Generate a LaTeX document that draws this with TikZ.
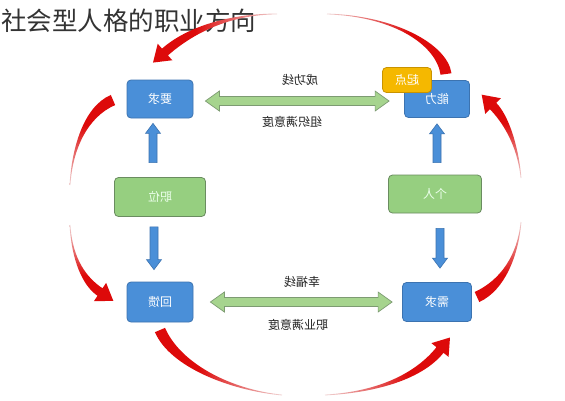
\documentclass[tikz,border=0pt]{standalone}
\usepackage{fontspec}
\usepackage{graphicx}
\setmainfont{Noto Sans CJK SC}
\usetikzlibrary{calc}
\definecolor{boxblue}{HTML}{4A8FD8}
\definecolor{boxblueD}{HTML}{3C73B0}
\definecolor{boxgreen}{HTML}{96CF80}
\definecolor{boxgreenD}{HTML}{6A8C60}
\definecolor{boxorange}{HTML}{F5B800}
\definecolor{boxorangeD}{HTML}{C99300}
\definecolor{arrgreen}{HTML}{A6D48E}
\definecolor{arrgreenD}{HTML}{7D9B72}
\definecolor{redA}{HTML}{DD0A0A}
\definecolor{fadeA}{HTML}{F0D4D4}
\definecolor{titlegray}{HTML}{333333}
\definecolor{labelgray}{HTML}{222222}
\pgfdeclarehorizontalshading{redfade}{100bp}{color(0bp)=(fadeA); color(25bp)=(fadeA); color(58bp)=(redA); color(100bp)=(redA)}
% tapered piece: thick at #1, thin at #4
\newcommand\tapertail[6]{%
  \coordinate (q0) at #1; \coordinate (q1) at #2; \coordinate (q2) at #3; \coordinate (q3) at #4;
  \shade[shading=redfade,#6] ($(q0)!#5!90:(q1)$) .. controls ($(q1)!#5!-90:(q0)$) and ($(q2)!0.4pt!90:(q3)$) .. ($(q3)!0.4pt!-90:(q2)$)
    -- ($(q3)!0.4pt!90:(q2)$) .. controls ($(q2)!0.4pt!-90:(q3)$) and ($(q1)!#5!90:(q0)$) .. ($(q0)!#5!-90:(q1)$) -- cycle;
}
% tapered piece: thin at #1, thick at #4, with an arrow head
\newcommand\taperhead[6]{%
  \coordinate (q0) at #1; \coordinate (q1) at #2; \coordinate (q2) at #3; \coordinate (q3) at #4;
  \shade[shading=redfade,#6] ($(q0)!0.4pt!90:(q1)$) .. controls ($(q1)!0.4pt!-90:(q0)$) and ($(q2)!#5!90:(q3)$) .. ($(q3)!#5!-90:(q2)$)
    -- ($(q3)!11pt!-90:(q2)$) -- ($(q3)!-16pt!(q2)$) -- ($(q3)!11pt!90:(q2)$)
    -- ($(q3)!#5!90:(q2)$) .. controls ($(q2)!#5!-90:(q3)$) and ($(q1)!0.4pt!90:(q0)$) .. ($(q0)!0.4pt!-90:(q1)$) -- cycle;
}
\newcommand\blockarrow[6]{%
  \coordinate (ba0) at #1; \coordinate (ba1) at #2;
  \coordinate (bah) at ($(ba1)!#5!(ba0)$);
  \draw[#6] ($(ba0)!#3!90:(ba1)$) -- ($(bah)!#3!90:(ba1)$) -- ($(bah)!#4!90:(ba1)$) -- (ba1)
    -- ($(bah)!#4!-90:(ba1)$) -- ($(bah)!#3!-90:(ba1)$) -- ($(ba0)!#3!-90:(ba1)$) -- cycle;
}
\newcommand\dblarrow[6]{%
  \coordinate (ba0) at #1; \coordinate (ba1) at #2;
  \coordinate (ha) at ($(ba0)!#5!(ba1)$); \coordinate (hb) at ($(ba1)!#5!(ba0)$);
  \draw[#6] (ba0) -- ($(ha)!#4!90:(ba1)$) -- ($(ha)!#3!90:(ba1)$) -- ($(hb)!#3!90:(ba1)$) -- ($(hb)!#4!90:(ba1)$) -- (ba1)
    -- ($(hb)!#4!-90:(ba1)$) -- ($(hb)!#3!-90:(ba1)$) -- ($(ha)!#3!-90:(ba1)$) -- ($(ha)!#4!-90:(ba1)$) -- cycle;
}
\tikzset{
  boxbase/.style={rounded corners=4pt, line width=0.8pt, inner sep=0pt, font=\fontsize{12}{12}\selectfont},
  bluebox/.style={boxbase, draw=boxblueD, fill=boxblue, text=white},
  greenbox/.style={boxbase, draw=boxgreenD, fill=boxgreen, text=white!92!green},
  orangebox/.style={boxbase, draw=boxorangeD, fill=boxorange, text=white},
  lbl/.style={font=\fontsize{12}{12}\selectfont, text=labelgray, inner sep=0pt},
  bluearrow/.style={draw=boxblueD, fill=boxblue, line width=0.6pt},
  greenarrow/.style={draw=arrgreenD, fill=arrgreen, line width=0.7pt},
}
\begin{document}
\begin{tikzpicture}[x=1pt,y=-1pt]
\fill[white] (0,0) rectangle (565,400);
\useasboundingbox (0,0) rectangle (565,400);
% title
\node[anchor=west, inner sep=0pt, text=titlegray, font=\fontsize{25.5}{25.5}\selectfont] (title) at (1,21) {社会型人格的职业方向};
% boxes
\node[bluebox, minimum width=66pt, minimum height=38pt] (yq) at (160,99) {\reflectbox{要求}};
\node[bluebox, minimum width=65pt, minimum height=37pt] (nl) at (437,99) {\reflectbox{能力}};
\node[orangebox, minimum width=49pt, minimum height=25pt] (qd) at (407,80) {\reflectbox{起点}};
\node[greenbox, minimum width=91pt, minimum height=39pt] (zw) at (160,197) {\reflectbox{职位}};
\node[greenbox, minimum width=93pt, minimum height=38pt] (gr) at (435,194) {\reflectbox{个人}};
\node[bluebox, minimum width=66pt, minimum height=40pt] (hk) at (160,302) {\reflectbox{回馈}};
\node[bluebox, minimum width=69pt, minimum height=39pt] (xq) at (437,302) {\reflectbox{需求}};
% labels
\node[lbl] (l1) at (300,80) {\reflectbox{成功线}};
\node[lbl] (l2) at (292,122) {\reflectbox{组织满意度}};
\node[lbl] (l3) at (302,282) {\reflectbox{幸福线}};
\node[lbl] (l4) at (298,325) {\reflectbox{职业满意度}};
% green double arrows
\dblarrow{($(yq.east)+(12,2)$)}{($(nl.west)+(-15,2)$)}{4.5pt}{10pt}{14pt}{greenarrow}
\dblarrow{($(hk.east)+(17,0)$)}{($(xq.west)+(-10,0)$)}{4.5pt}{10pt}{14pt}{greenarrow}
% blue vertical arrows
\blockarrow{($(zw.north)+(-7,-14.5)$)}{($(yq.south)+(-7,5)$)}{4pt}{7.5pt}{10pt}{bluearrow}
\blockarrow{($(zw.south)+(-6,10)$)}{($(hk.north)+(-6,-12)$)}{4pt}{7.5pt}{10pt}{bluearrow}
\blockarrow{($(gr.north)+(2,-12)$)}{($(nl.south)+(0,6)$)}{4pt}{7.5pt}{10pt}{bluearrow}
\blockarrow{($(gr.south)+(5,15)$)}{($(xq.north)+(3,-14)$)}{4pt}{7.5pt}{10pt}{bluearrow}
% red curved arrows
% top: from 能力 to 要求
\tapertail{(446,74)}{(442,45)}{(395,16)}{(327,14)}{5.5pt}{shading angle=0}
\taperhead{(277,14)}{(230,14)}{(190,30)}{(165,52)}{4.5pt}{shading angle=180}
% left: from 要求 to 回馈
\tapertail{(113,100)}{(85,112)}{(72,150)}{(70,185)}{5.5pt}{shading angle=90}
\taperhead{(70,225)}{(72,260)}{(85,282)}{(100,292)}{4.5pt}{shading angle=270}
% bottom: from 回馈 to 需求
\tapertail{(160,330)}{(175,365)}{(230,390)}{(282,395)}{5.5pt}{shading angle=180}
\taperhead{(325,395)}{(380,392)}{(420,375)}{(440,350)}{4.5pt}{shading angle=0}
% right: from 需求 to 能力
\tapertail{(477,297)}{(503,285)}{(518,255)}{(521,222)}{5.5pt}{shading angle=270}
\taperhead{(521,178)}{(518,145)}{(505,118)}{(493,106)}{4.5pt}{shading angle=90}
\end{tikzpicture}
\end{document}
